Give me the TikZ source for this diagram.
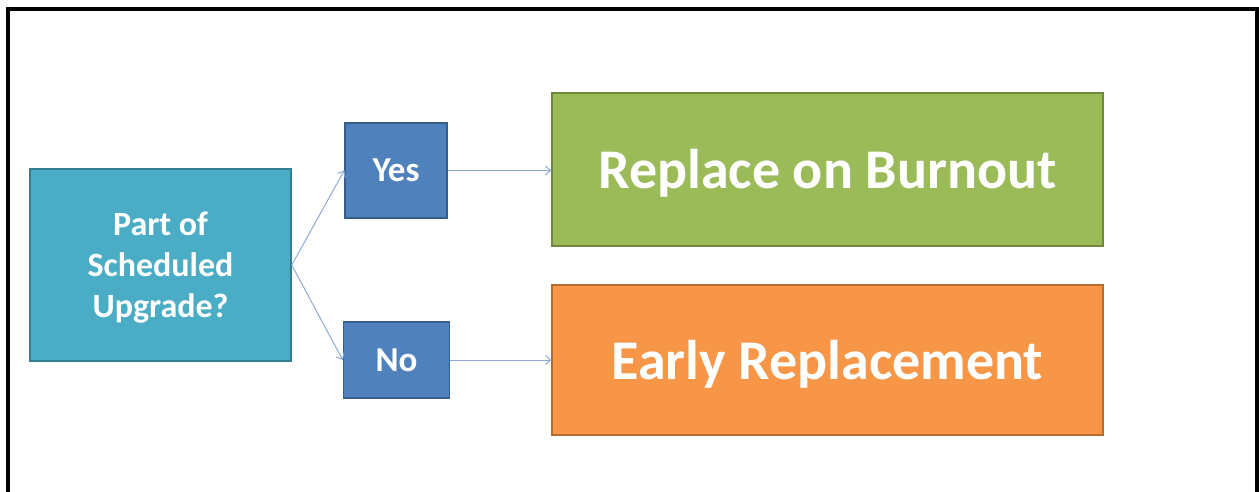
\documentclass[tikz,border=0pt]{standalone}
\usepackage{fontspec}
\setmainfont{Carlito}
\usetikzlibrary{arrows.meta}
\definecolor{teal1}{HTML}{4BACC6}
\definecolor{teal2}{HTML}{357D91}
\definecolor{blue1}{HTML}{4F81BD}
\definecolor{blue2}{HTML}{385D8A}
\definecolor{green1}{HTML}{9BBB59}
\definecolor{green2}{HTML}{71893F}
\definecolor{orange1}{HTML}{F79646}
\definecolor{orange2}{HTML}{B66D31}
\definecolor{arr}{HTML}{8EAADB}
\newcommand{\lowertext}[2]{\raisebox{-#1}[\height][\depth]{#2}}
\begin{document}
\begin{tikzpicture}[x=1pt,y=-1pt,
  box/.style={draw, line width=1.5pt, inner sep=0pt, text=white, font=\bfseries, align=center},
  link/.style={draw=arr, line width=1pt, -{Straight Barb[length=5pt,width=9pt]}}]
\useasboundingbox (0,0) rectangle (1259,492);
\fill[white] (0,0) rectangle (1259,492);
\draw[line width=4pt] (8,500) -- (8,9) -- (1257,9) -- (1257,500);
\node[box, fill=teal1, draw=teal2, minimum width=261pt, minimum height=192pt, font=\fontsize{34}{41}\selectfont\bfseries] (q) at (160.5,265) {\lowertext{3pt}{Part of}\\\lowertext{3pt}{Scheduled}\\\lowertext{3pt}{Upgrade?}};
\node[box, fill=blue1, draw=blue2, minimum width=102pt, minimum height=95pt, font=\fontsize{35}{40}\selectfont\bfseries] (yes) at (396,170.5) {Yes};
\node[box, fill=blue1, draw=blue2, minimum width=106pt, minimum height=76pt, font=\fontsize{35}{40}\selectfont\bfseries] (no) at (396.5,360) {No};
\node[box, fill=green1, draw=green2, minimum width=551pt, minimum height=153pt, font=\fontsize{56}{60}\selectfont\bfseries] (burn) at (827.5,169.5) {\lowertext{4pt}{Replace on Burnout}};
\node[box, fill=orange1, draw=orange2, minimum width=551pt, minimum height=150pt, font=\fontsize{56}{60}\selectfont\bfseries] (early) at (827.5,360) {\lowertext{4pt}{Early Replacement}};
\draw[link] (q.east) -- (yes.west);
\draw[link] (q.east) -- (no.west);
\draw[link] (yes.east) -- (burn.west |- yes.east);
\draw[link] (no.east) -- (early.west |- no.east);
\end{tikzpicture}
\end{document}
